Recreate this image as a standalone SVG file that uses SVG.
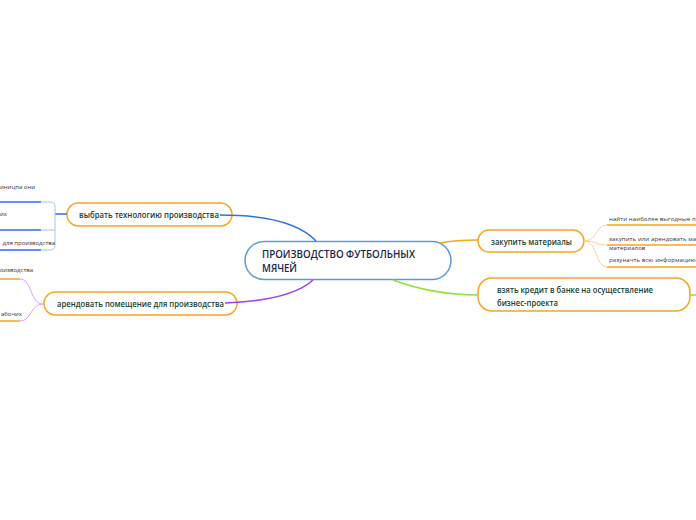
<svg xmlns="http://www.w3.org/2000/svg" width="696" height="520" viewBox="0 0 696 520">
<style>
.node{fill:#fff;stroke:#f5a623;stroke-width:1.5}
.main{fill:#fff;stroke:#5b9bd5;stroke-width:1.5}
.nt{font-family:"Open Sans","DejaVu Sans",sans-serif;font-size:8.6px;font-weight:600;fill:#17402f}
.mt{font-family:"Open Sans","DejaVu Sans",sans-serif;font-size:9.8px;font-weight:600;fill:#1a2745}
.st{font-family:"Open Sans","DejaVu Sans",sans-serif;font-size:6px;fill:#333}
.sr{letter-spacing:0.12px}
.c{fill:none;stroke-width:1.5}
</style>
<rect width="696" height="520" fill="#fff"/>
<g id="main">
<rect class="main" x="245" y="241.5" width="206" height="38" rx="19"/>
<text class="mt" x="262" y="258" textLength="153" lengthAdjust="spacingAndGlyphs">ПРОИЗВОДСТВО ФУТБОЛЬНЫХ</text>
<text class="mt" x="262" y="272" textLength="35" lengthAdjust="spacingAndGlyphs">МЯЧЕЙ</text>
</g>
<g id="n-tech">
<rect class="node" x="67" y="203" width="165" height="23" rx="11.5"/>
<text class="nt" x="79" y="218" textLength="140" lengthAdjust="spacingAndGlyphs">выбрать технологию производства</text>
</g>
<g id="n-rent">
<rect class="node" x="44" y="292" width="193" height="23" rx="11.5"/>
<text class="nt" x="57" y="307" textLength="167" lengthAdjust="spacingAndGlyphs">арендовать помещение для производства</text>
</g>
<g id="n-buy">
<rect class="node" x="478" y="230" width="106" height="22" rx="11"/>
<text class="nt" x="491" y="245" textLength="81" lengthAdjust="spacingAndGlyphs">закупить материалы</text>
</g>
<g id="n-credit">
<rect class="node" x="478" y="278" width="212" height="33" rx="14"/>
<text class="nt" x="497" y="293" textLength="156" lengthAdjust="spacingAndGlyphs">взять кредит в банке на осуществление</text>
<text class="nt" x="497" y="306" textLength="61" lengthAdjust="spacingAndGlyphs">бизнес-проекта</text>
</g>
<g id="connectors">
<path class="c" d="M220,215 C270,215 300,224 316,241" stroke="#2e6ff0"/>
<path class="c" d="M225,303 C275,301 300,292 313,280" stroke="#a13cf0"/>
<path class="c" d="M440,243 C455,240 465,240 478,240" stroke="#f5a623"/>
<path class="c" d="M393,280 C420,290 445,295 478,295" stroke="#8de03a"/>
<path class="c" d="M690,295 H696" stroke="#8de03a"/>
<path class="c" d="M55,214 H67" stroke="#2e6ff0"/>
<path fill="none" stroke="#a9c3f7" stroke-width="1" d="M41,202 H50 Q55,202 55,207 V245 Q55,250 50,250 H41 M41,230 H55"/>
<path fill="none" stroke="#2e6ff0" stroke-width="1.5" d="M0,202 H41 M0,230 H41 M0,250 H41"/>
<path fill="none" stroke="#d9a3f7" stroke-width="1" d="M43,304 C30,304 32,279 20,279 M43,304 C30,304 32,321 20,321"/>
<path fill="none" stroke="#f5a623" stroke-width="1.5" d="M0,279 H20 M0,321 H20"/>
<path fill="none" stroke="#ffd38f" stroke-width="1" d="M584,241 C598,241 595,225 607,225 M584,241 C598,241 595,245 607,245 M584,241 C598,241 595,267 607,267"/>
<path fill="none" stroke="#f5a623" stroke-width="1.5" d="M607,225 H696 M607,245 H696 M607,267 H696"/>
</g>
<g id="s-tech1"><text class="st" x="0" y="189">иницпа они</text></g>
<g id="s-tech2"><text class="st" x="0" y="216">их</text></g>
<g id="s-tech3"><text class="st" x="55" y="245" text-anchor="end">для производства</text></g>
<g id="s-rent1"><text class="st" x="33" y="272" text-anchor="end">роизводства</text></g>
<g id="s-rent2"><text class="st" x="22" y="316" text-anchor="end">абочих</text></g>
<g id="s-buy1"><text class="st sr" x="609" y="221">найти наиболее выгодные пр</text></g>
<g id="s-buy2"><text class="st sr" x="609" y="241">закупить или арендовать ма</text><text class="st sr" x="609" y="250">материалов</text></g>
<g id="s-buy3"><text class="st sr" x="609" y="262">разуначть всю информацию</text></g>
</svg>
